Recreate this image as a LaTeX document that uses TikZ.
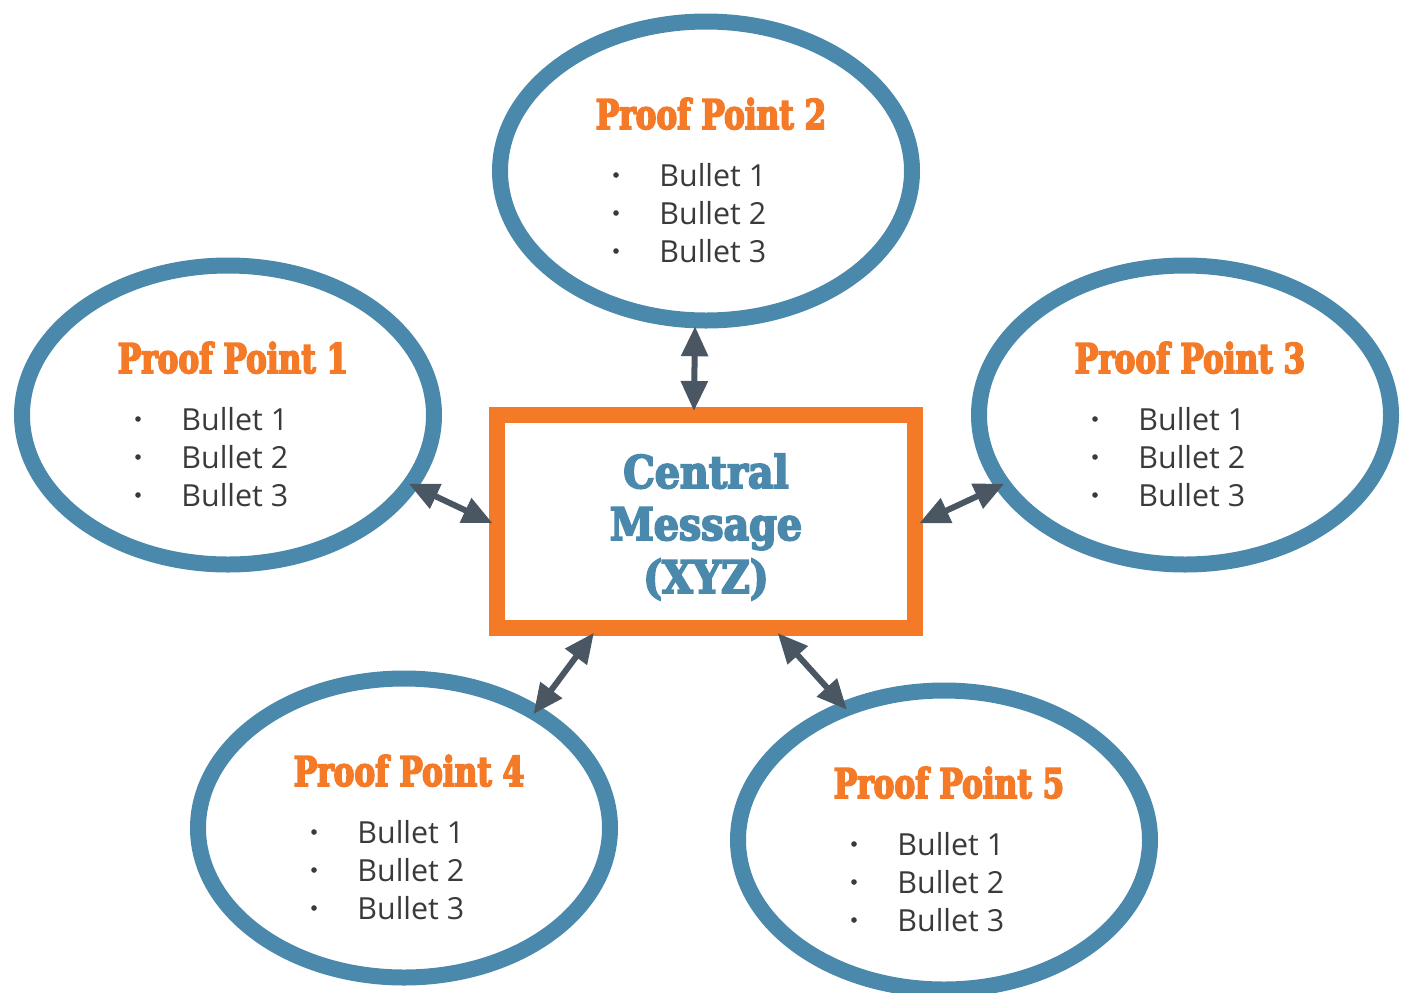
\documentclass[tikz,border=0pt]{standalone}
\usepackage{fontspec}
\usetikzlibrary{shapes.geometric,arrows.meta,calc}
\setmainfont{Open Sans}
\newfontfamily\slabfont[FakeStretch=0.76,FakeBold=4]{DejaVu Serif}
\newfontfamily\corefont[FakeStretch=0.88,FakeBold=4]{DejaVu Serif}
\definecolor{ppblue}{HTML}{4A89AB}
\definecolor{pporange}{HTML}{F47A28}
\definecolor{linkgray}{HTML}{4B5663}
\definecolor{bodytext}{HTML}{3A3A3A}

\tikzset{
  ppring/.style={ellipse, draw=ppblue, line width=8pt, fill=white,
    minimum width=206pt, minimum height=149.5pt, inner sep=0pt},
  pphead/.style={text=pporange, inner sep=0pt,
    font=\slabfont\bfseries\fontsize{20.5}{24}\selectfont},
  bullettext/.style={text=bodytext, inner sep=0pt,
    font=\fontsize{15.2}{19}\selectfont},
  bulletdot/.style={circle, fill=bodytext, inner sep=0pt, minimum size=2.8pt},
  corebox/.style={rectangle, draw=pporange, line width=8pt, fill=white,
    minimum width=209pt, minimum height=106.5pt, inner sep=0pt},
  coretext/.style={text=ppblue, inner sep=0pt,
    font=\corefont\bfseries\fontsize{22.5}{26}\selectfont},
  link/.style={draw=linkgray, line width=3pt, shorten >=-2pt,
    {Triangle[length=15pt,width=13pt]}-{Triangle[length=15pt,width=13pt]}}
}

% one proof point: ring, heading and three bullets
% #1 node name, #2 x, #3 y, #4 number
\newcommand\proofpoint[4]{%
  \node[ppring] (#1) at (#2,#3) {};
  \node[pphead, anchor=base] (#1-head) at ($(#1.center)+(5,-42)$) {Proof Point #4};
  \foreach \k/\dy in {1/15,2/53,3/91}{%
    \node[bulletdot] (#1-dot\k) at ($(#1.center)+(-90,\dy-11)$) {};
    \node[bullettext, anchor=base west] (#1-b\k) at ($(#1.center)+(-47,\dy)$) {Bullet \k};
  }%
}

\begin{document}
\begin{tikzpicture}[x=0.5pt,y=-0.5pt]
  \useasboundingbox (0,0) rectangle (1408,992);

  \proofpoint{pp1}{228}{415}{1}
  \proofpoint{pp2}{706}{171}{2}
  \proofpoint{pp3}{1185}{415}{3}
  \proofpoint{pp4}{404}{828}{4}
  \proofpoint{pp5}{944}{840}{5}

  % central message box
  \node[corebox] (core) at (706,521.5) {};
  \node[coretext, anchor=base] (core-l1) at (706,488) {Central};
  \node[coretext, anchor=base] (core-l2) at (706,540) {Message};
  \node[coretext, anchor=base] (core-l3) at (706,593) {(XYZ)};

  % two-way links between the box and each proof point
  \draw[link, shorten <=-1pt] (pp2.-94.4) -- (core.96);
  \draw[link, shorten <=-5pt] (pp1.-21.7) -- (core.180.3);
  \draw[link, shorten <=-5pt] (pp3.201.8) -- (core.-0.3);
  \draw[link, shorten <=-5pt] (pp4.42.6) -- (core.225.8);
  \draw[link, shorten <=-5pt] (pp5.127.8) -- (core.-57.7);
\end{tikzpicture}
\end{document}
